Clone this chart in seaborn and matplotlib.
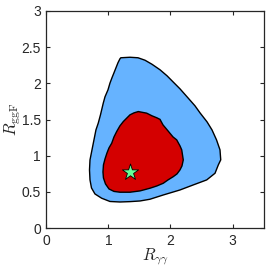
import matplotlib
matplotlib.use("Agg")
import matplotlib.pyplot as plt
import seaborn as sns
import pandas as pd

# 95% CL contour boundary (outer, light blue)
outer_x = [1.20, 1.347, 1.476, 1.589, 1.702, 1.831, 1.944, 2.040, 2.153, 2.282,
           2.395, 2.476, 2.589, 2.669, 2.742, 2.798, 2.810, 2.771, 2.718, 2.584,
           2.368, 2.153, 1.884, 1.669, 1.508, 1.347, 1.185, 1.024, 0.890, 0.782,
           0.726, 0.702, 0.694, 0.702, 0.734, 0.766, 0.798, 0.835, 0.871, 0.916,
           0.944, 0.992, 1.024, 1.056, 1.089, 1.121, 1.153, 1.185]
outer_y = [2.354, 2.361, 2.354, 2.320, 2.264, 2.188, 2.105, 2.022, 1.925, 1.800,
           1.690, 1.593, 1.469, 1.358, 1.220, 1.082, 0.944, 0.874, 0.759, 0.667,
           0.598, 0.528, 0.459, 0.400, 0.376, 0.367, 0.362, 0.369, 0.414, 0.473,
           0.556, 0.667, 0.805, 0.943, 1.082, 1.220, 1.358, 1.451, 1.566, 1.728,
           1.815, 1.911, 2.004, 2.077, 2.147, 2.216, 2.285, 2.340]

# 68% CL contour boundary (inner, red)
inner_x = [1.481, 1.616, 1.702, 1.782, 1.831, 1.879, 1.960, 2.040, 2.100, 2.153,
           2.181, 2.206, 2.185, 2.153, 2.105, 2.045, 1.960, 1.884, 1.782, 1.669,
           1.508, 1.347, 1.185, 1.089, 1.008, 0.952, 0.919, 0.911, 0.919, 0.944,
           0.976, 1.008, 1.052, 1.089, 1.132, 1.185, 1.239, 1.298, 1.347, 1.411]
inner_y = [1.611, 1.589, 1.552, 1.524, 1.503, 1.427, 1.344, 1.261, 1.220, 1.137,
           1.082, 0.943, 0.860, 0.805, 0.750, 0.712, 0.667, 0.621, 0.584, 0.552,
           0.515, 0.497, 0.497, 0.508, 0.542, 0.611, 0.694, 0.777, 0.874, 0.957,
           1.040, 1.109, 1.174, 1.261, 1.335, 1.414, 1.473, 1.524, 1.566, 1.593]

# best-fit point
best_x = [1.35]
best_y = [0.78]

x_ticks = [0, 1, 2, 3]
y_ticks = [0, 0.5, 1, 1.5, 2, 2.5, 3]
y_ticklabels = ["0", "0.5", "1", "1.5", "2", "2.5", "3"]

sns.set_style("ticks")
plt.rcParams["font.family"] = ["Liberation Sans", "DejaVu Sans"]
plt.rcParams["mathtext.fontset"] = "cm"

fig = plt.figure(figsize=(2.67, 2.68), dpi=100)
ax = fig.add_axes([0.174, 0.1485, 0.813, 0.8105])

ax.fill(outer_x, outer_y, facecolor="#66b3ff", edgecolor="black", linewidth=1.0, zorder=2)
ax.fill(inner_x, inner_y, facecolor="#d40000", edgecolor="black", linewidth=1.0, zorder=3)

star_df = pd.DataFrame({"x": best_x, "y": best_y})
sns.scatterplot(data=star_df, x="x", y="y", marker="*", s=150, color="#66ff99",
                edgecolor="black", linewidth=0.6, ax=ax, zorder=5, legend=False)

ax.set_xlim(0, 3.5)
ax.set_ylim(0, 3)
ax.set_xticks(x_ticks)
ax.set_yticks(y_ticks)
ax.set_yticklabels(y_ticklabels)
ax.tick_params(direction="in", length=3, width=0.8, labelsize=10, top=True, right=True, pad=4)
for sp in ax.spines.values():
    sp.set_linewidth(0.9)
    sp.set_visible(True)
ax.set_xlabel(r"$R_{\gamma\gamma}$", fontsize=12, labelpad=-1)
ax.set_ylabel(r"$R_{\rm ggF}$", fontsize=12, labelpad=-1)

fig.savefig("out.png", dpi=100)
